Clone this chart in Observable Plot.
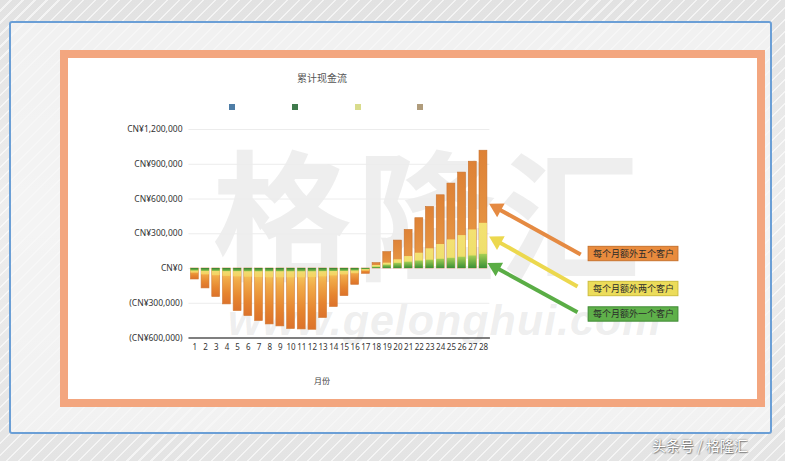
<!DOCTYPE html>
<html><head><meta charset="utf-8">
<script src="https://cdn.jsdelivr.net/npm/d3@7"></script>
<script src="https://cdn.jsdelivr.net/npm/@observablehq/plot@0.6"></script>
<style>
html,body{margin:0;padding:0;}
body{width:785px;height:461px;overflow:hidden;position:relative;font-family:"Liberation Sans",Arial,sans-serif;
 background:
  repeating-linear-gradient(135deg, rgba(255,255,255,0) 0 7px, rgba(255,255,255,0.6) 7px 8.5px),
  linear-gradient(180deg,#e2e2e2 0%,#eeeeee 45%,#e4e4e4 100%);}
#blue{position:absolute;left:9px;top:21px;width:759px;height:409px;border:2px solid #6b9fd6;border-radius:3px;background:rgba(247,247,247,0.7);}
#frame{position:absolute;left:60px;top:50px;width:689px;height:341px;border:8px solid #f3a67f;background:#fff;}
#title{position:absolute;left:272px;width:100px;top:70px;text-align:center;font:10px "Noto Sans CJK SC",sans-serif;color:#555;}
.lg{position:absolute;width:6px;height:6px;top:104px;}
#chart{position:absolute;left:0;top:0;}
.wm{position:absolute;white-space:nowrap;pointer-events:none;}
#wm1{left:212px;top:138px;font:bold 140px/1 "Noto Sans CJK SC",sans-serif;letter-spacing:4px;color:rgba(185,185,185,0.24);}
#wm2{left:228px;top:299px;font:italic bold 43px/1 "Liberation Sans",Arial,sans-serif;color:rgba(185,185,185,0.24);letter-spacing:1px;}
#xlab{position:absolute;left:300px;width:44px;top:375px;text-align:center;font:8px "Noto Sans CJK SC",sans-serif;color:#444;}
#footer{position:absolute;left:652px;top:435px;font:14px "Noto Sans CJK SC",sans-serif;color:#fff;text-shadow:0 0 2px rgba(0,0,0,0.55),1px 1px 1px rgba(0,0,0,0.35);white-space:nowrap;}
</style></head>
<body>
<div id="blue"></div>
<div id="frame"></div>
<div class="wm" id="wm1">格隆汇</div>
<div class="wm" id="wm2">www.gelonghui.com</div>
<div id="title">累计现金流</div>
<div id="legend"></div>
<div id="chart"></div>
<div id="xlab">月份</div>
<div id="footer">头条号 / 格隆汇</div>
<script>
// ---- data ----
const months = [1,2,3,4,5,6,7,8,9,10,11,12,13,14,15,16,17,18,19,20,21,22,23,24,25,26,27,28];
const fiveCustomers = [-95000,-172000,-247000,-310000,-368000,-411000,-454000,-483000,-500000,-523000,-526000,-529000,-428000,-333000,-239000,-141000,-46000,46000,141000,241000,333000,434000,531000,632000,733000,828000,922000,1017000];
const twoCustomers = [-40000,-55000,-62000,-68000,-72000,-75000,-78000,-80000,-80000,-80000,-80000,-78000,-72000,-64000,-55000,-45000,-22000,26000,46000,75000,103000,132000,170000,207000,247000,284000,333000,390000];
const oneCustomer = [-22000,-25000,-25000,-27000,-27000,-28000,-28000,-28000,-28000,-28000,-28000,-28000,-27000,-26000,-25000,-22000,-10000,12000,30000,45000,55000,65000,72000,80000,88000,97000,108000,122000];
const yTicks = [1200000,900000,600000,300000,0,-300000,-600000];
const legendColors = ["#4e7da6","#3f7a4c","#d9dc8c","#b09c7c"];
const legendX = [229,292,355,417];
const annLabels = ["每个月额外五个客户","每个月额外两个客户","每个月额外一个客户"];
const annLabelMonth = [42.04,42.04,42.04];
const annLabelValue = [125000,-177000,-397000];
const arrowTailMonth = [37.1,36.8,36.8];
const arrowTailValue = [121000,-155000,-377000];
const arrowTipMonth = [28.65,28.65,28.5];
const arrowTipValue = [552000,270000,41000];
const annFill = ["#e98b3d","#ecdc5a","#5fb04a"];
const annStroke = ["#c8722d","#cdbd3c","#3f8a35"];
const arrowColor = ["#e58a42","#ecd84e","#5aad45"];

// legend
const lg = document.getElementById("legend");
legendColors.forEach((c,i)=>{const d=document.createElement("div");d.className="lg";d.style.left=legendX[i]+"px";d.style.background=c;lg.appendChild(d);});

// ---- layout ----
const W=785,H=461,mL=189,mR=296.7,mT=129,mB=123.5;
const xPx = d3.scaleLinear([0.5,28.5],[mL,W-mR]);
const yPx = d3.scaleLinear([-600000,1200000],[H-mB,mT]);
const bw = 0.37;

const rows = (vals)=>months.map((m,i)=>({month:m,value:vals[i]}));
const orange=rows(fiveCustomers), yellow=rows(twoCustomers), green=rows(oneCustomer);
const neg = a=>a.filter(d=>d.value<0), pos=a=>a.filter(d=>d.value>=0);
const rectOpts=(fill,stroke,sw)=>({x1:d=>d.month-bw,x2:d=>d.month+bw,y1:0,y2:"value",fill,stroke,strokeWidth:sw});

const fmt = v => v===0 ? "CN¥0" : (v<0 ? "(CN¥"+d3.format(",")(-v)+")" : "CN¥"+d3.format(",")(v));

// annotations
const ann = annLabels.map((t,i)=>{
  const tx=xPx(arrowTailMonth[i]), ty=yPx(arrowTailValue[i]);
  const px=xPx(arrowTipMonth[i]), py=yPx(arrowTipValue[i]);
  const L=Math.hypot(px-tx,py-ty), ux=(px-tx)/L, uy=(py-ty)/L;
  return {label:t,i,
    lm:annLabelMonth[i], lv:annLabelValue[i],
    tm:arrowTailMonth[i], tv:arrowTailValue[i],
    em:xPx.invert(px-ux*9), ev:yPx.invert(py-uy*9),
    hm:xPx.invert(px-ux*7.5), hv:yPx.invert(py-uy*7.5),
    rot:Math.atan2(ux,-uy)*180/Math.PI};
});
const hw=4.2, hh=62000;

const svg = Plot.plot({
  width:W,height:H,marginLeft:mL,marginRight:mR,marginTop:mT,marginBottom:mB,
  x:{type:"linear",domain:[0.5,28.5],axis:null},
  y:{domain:[-600000,1200000],axis:null},
  style:{background:"transparent",overflow:"visible"},
  marks:[
    Plot.ruleY(yTicks.filter(v=>v>-600000),{x1:0.45,x2:28.6,stroke:"#ececec",strokeWidth:1}),
    Plot.rectY(neg(orange),rectOpts("url(#oNeg)","#d27c38",0.6)),
    Plot.rectY(pos(orange),rectOpts("url(#oPos)","#c9732f",0.6)),
    Plot.rectY(neg(yellow),rectOpts("url(#yNeg)","none",0)),
    Plot.rectY(pos(yellow),rectOpts("url(#yPos)","none",0)),
    Plot.rectY(neg(green),rectOpts("url(#gNeg)","none",0)),
    Plot.rectY(pos(green),rectOpts("url(#gPos)","none",0)),
    Plot.ruleY([-600000],{x1:0.45,x2:28.65,stroke:"#555",strokeWidth:1.5}),
    Plot.text(yTicks,{x:0.5,y:d=>d,text:fmt,textAnchor:"end",dx:-7,fontSize:8.5,fill:"#333"}),
    Plot.text(months,{x:d=>d,y:-600000,text:d=>String(d),dy:9,fontSize:8,fill:"#333"}),
    Plot.link(ann,{x1:"tm",y1:"tv",x2:"em",y2:"ev",stroke:d=>arrowColor[d.i],strokeWidth:4}),
    Plot.dot(ann,{x:"hm",y:"hv",symbol:"triangle",r:5.8,rotate:"rot",fill:d=>arrowColor[d.i],stroke:"none"}),
    Plot.rect(ann,{x1:d=>d.lm-hw,x2:d=>d.lm+hw,y1:d=>d.lv-hh,y2:d=>d.lv+hh,fill:d=>annFill[d.i],stroke:d=>annStroke[d.i],strokeWidth:1}),
    Plot.text(ann,{x:"lm",y:"lv",text:"label",fontSize:9,fill:"#2a2a2a",fontFamily:"Noto Sans CJK SC"})
  ]
});
document.getElementById("chart").appendChild(svg);

const defs = d3.select(svg).insert("defs",":first-child");
const grad=(id,stops)=>{const g=defs.append("linearGradient").attr("id",id).attr("x1",0).attr("y1",0).attr("x2",0).attr("y2",1);
  stops.forEach(([o,c])=>g.append("stop").attr("offset",o).attr("stop-color",c));};
grad("oNeg",[[0,"#f5d866"],[0.3,"#f1aa48"],[0.7,"#e6852f"],[1,"#dc722b"]]);
grad("oPos",[[0,"#de8236"],[1,"#e99c48"]]);
grad("yNeg",[[0,"#eee27a"],[1,"#f5d262"]]);
grad("yPos",[[0,"#f4e172"],[0.6,"#efe06e"],[1,"#c6d54e"]]);
grad("gNeg",[[0,"#2f7f32"],[1,"#8cc24a"]]);
grad("gPos",[[0,"#a6cf55"],[1,"#3a9036"]]);
</script>
</body></html>
